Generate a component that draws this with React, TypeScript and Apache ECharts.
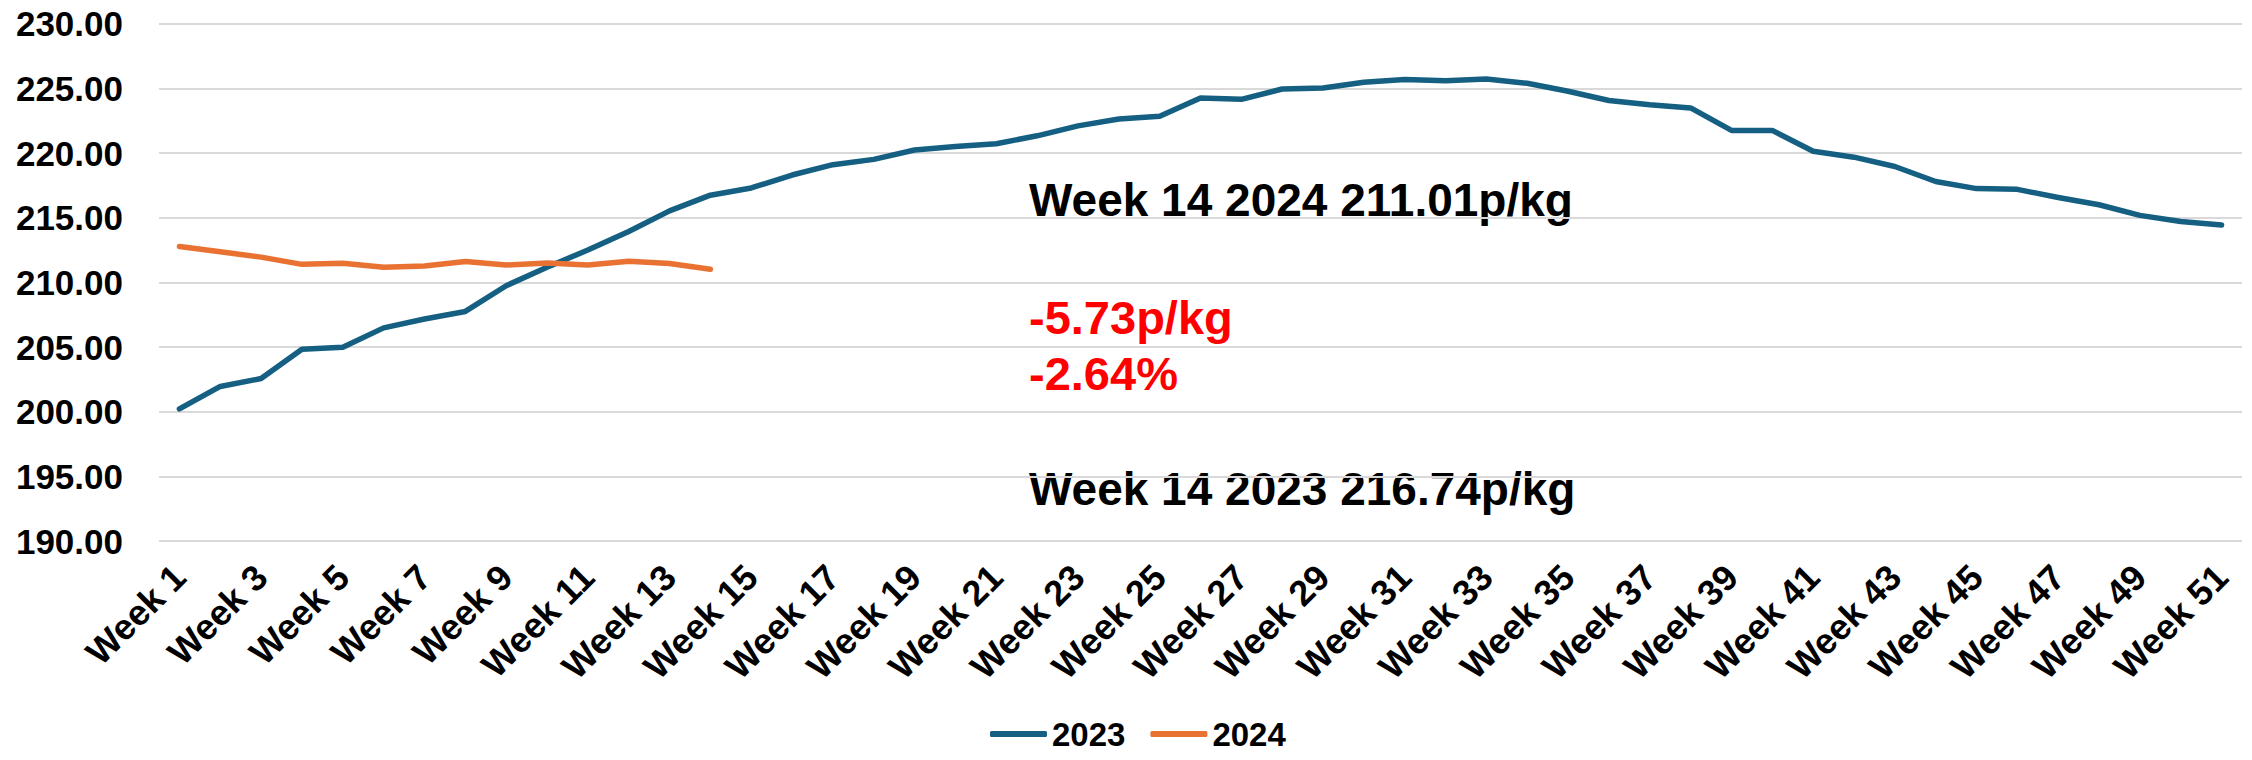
import React, { useEffect, useRef } from "react";
import * as echarts from "echarts";

const weeks: string[] = Array.from({ length: 51 }, (_, i) => `Week ${i + 1}`);

const values2023: number[] = [
  200.21, 201.95, 202.56, 204.82, 204.99, 206.48, 207.17, 207.75, 209.74, 211.17,
  212.5, 213.93, 215.53, 216.74, 217.3, 218.3, 219.1, 219.51, 220.23, 220.5,
  220.72, 221.33, 222.1, 222.63, 222.85, 224.25, 224.15, 224.95, 225.03, 225.47,
  225.69, 225.58, 225.72, 225.39, 224.78, 224.06, 223.73, 223.49, 221.75, 221.75,
  220.14, 219.68, 218.96, 217.8, 217.25, 217.19, 216.56, 216.0, 215.18, 214.71, 214.43,
];

const values2024: number[] = [
  212.77, 212.36, 211.95, 211.39, 211.48, 211.17, 211.26, 211.61, 211.34, 211.5,
  211.34, 211.64, 211.45, 211.01,
];

const seriesNames: string[] = ["2023", "2024"];
const seriesColors: string[] = ["#156082", "#E97132"];

const annotationBlack: string[] = ["Week 14 2024 211.01p/kg", "Week 14 2023 216.74p/kg"];
const annotationRed: string[] = ["-5.73p/kg", "-2.64%"];

const FONT = "'Liberation Sans', Arial, sans-serif";

export default function App() {
  const ref = useRef<HTMLDivElement>(null);

  useEffect(() => {
    if (!ref.current) return;
    const chart = echarts.init(ref.current, undefined, { renderer: "svg" });
    chart.setOption({
      animation: false,
      backgroundColor: "#ffffff",
      textStyle: { fontFamily: FONT },
      grid: { left: 159, right: 10, top: 23.7, bottom: 219, containLabel: false },
      legend: {
        data: seriesNames,
        left: 990,
        top: 716,
        padding: 0,
        itemWidth: 57,
        itemHeight: 6,
        itemGap: 25,
        icon: "roundRect",
        textStyle: {
          fontSize: 33,
          lineHeight: 36,
          fontWeight: "bold",
          color: "#000",
          fontFamily: FONT,
        },
      },
      xAxis: {
        type: "category",
        data: weeks,
        boundaryGap: true,
        axisLine: { show: false },
        axisTick: { show: false },
        axisLabel: {
          interval: 1,
          rotate: 45,
          margin: 30,
          fontSize: 36,
          fontWeight: "bold",
          color: "#000",
          fontFamily: FONT,
        },
        splitLine: { show: false },
      },
      yAxis: {
        type: "value",
        min: 190,
        max: 230,
        interval: 5,
        axisLine: { show: false },
        axisTick: { show: false },
        axisLabel: {
          margin: 36,
          fontSize: 35,
          fontWeight: "bold",
          color: "#000",
          fontFamily: FONT,
          formatter: (v: number) => v.toFixed(2),
        },
        splitLine: { show: true, lineStyle: { color: "#d9d9d9", width: 2 } },
      },
      series: [
        {
          name: seriesNames[0],
          type: "line",
          data: values2023,
          showSymbol: false,
          symbol: "none",
          color: seriesColors[0],
          lineStyle: { width: 5.5, color: seriesColors[0], cap: "round", join: "round" },
        },
        {
          name: seriesNames[1],
          type: "line",
          data: values2024,
          showSymbol: false,
          symbol: "none",
          color: seriesColors[1],
          lineStyle: { width: 5.5, color: seriesColors[1], cap: "round", join: "round" },
        },
      ],
      graphic: [
        {
          type: "text",
          left: 1029,
          top: 200 - 23,
          style: { text: annotationBlack[0], fontSize: 46, fontWeight: "bold", fill: "#000", fontFamily: FONT },
        },
        {
          type: "text",
          left: 1029,
          top: 317 - 23,
          style: { text: annotationRed[0], fontSize: 47, fontWeight: "bold", fill: "#ff0000", fontFamily: FONT },
        },
        {
          type: "text",
          left: 1029,
          top: 373 - 23,
          style: { text: annotationRed[1], fontSize: 47, fontWeight: "bold", fill: "#ff0000", fontFamily: FONT },
        },
        {
          type: "text",
          left: 1029,
          top: 489 - 23,
          style: { text: annotationBlack[1], fontSize: 46, fontWeight: "bold", fill: "#000", fontFamily: FONT },
        },
      ],
    });
    return () => chart.dispose();
  }, []);

  return (
    <div
      ref={ref}
      style={{ position: "absolute", left: 0, top: 0, width: 2252, height: 760 }}
    />
  );
}
